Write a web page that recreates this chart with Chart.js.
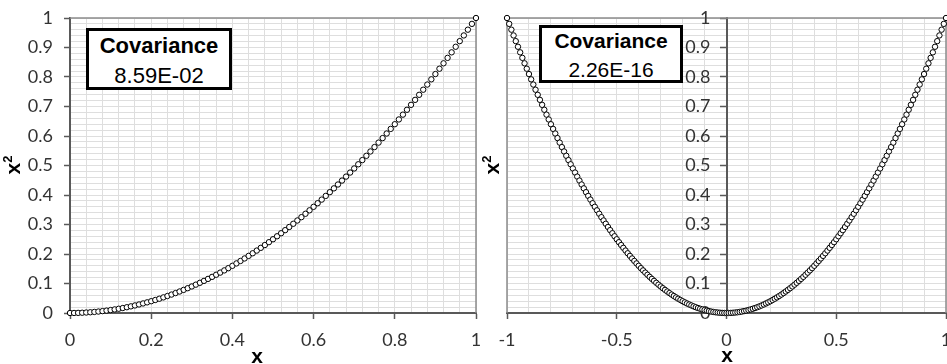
<!DOCTYPE html>
<html>
<head>
<meta charset="utf-8">
<script src="https://cdn.jsdelivr.net/npm/chart.js@4"></script>
<style>
  body { margin: 0; background: #fff; overflow: hidden; }
  #wrap { position: relative; width: 947px; height: 364px; overflow: hidden; }
  canvas { position: absolute; top: 0; }
  .box { position: absolute; border: 3px solid #000; background: #fff; box-sizing: border-box; }
  .line { position: absolute; left: 0; width: 100%; text-align: center; font-family: "Liberation Sans", Arial, sans-serif; color: #000; white-space: nowrap; }
  .ttl { position: absolute; font-family: "Liberation Sans", Arial, sans-serif; font-weight: bold; font-size: 21px; line-height: 21px; color: #000; white-space: nowrap; }
  .ttl sup { font-size: 13px; vertical-align: 8px; line-height: 0; }
</style>
</head>
<body>
<div id="wrap">
  <canvas id="chartLeft" width="490" height="364" style="left:0"></canvas>
  <canvas id="chartRight" width="472" height="364" style="left:480px"></canvas>

  <div class="box" style="left:86px; top:28px; width:146px; height:62px;">
    <div class="line" style="top:4px; font-size:22px; line-height:22px; font-weight:bold;">Covariance</div>
    <div class="line" style="top:34px; font-size:22px; line-height:22px;">8.59E-02</div>
  </div>
  <div class="box" style="left:539px; top:25px; width:144px; height:58px;">
    <div class="line" style="top:2px; font-size:21px; line-height:21px; font-weight:bold;">Covariance</div>
    <div class="line" style="top:31px; font-size:21px; line-height:21px;">2.26E-16</div>
  </div>

  <div class="ttl" style="left:257px; top:345px; transform:translateX(-50%);">x</div>
  <div class="ttl" style="left:727px; top:344px; transform:translateX(-50%);">x</div>
  <div class="ttl" style="left:12px; top:165px; transform:translate(-50%,-50%) rotate(-90deg);">x<sup>2</sup></div>
  <div class="ttl" style="left:491px; top:165px; transform:translate(-50%,-50%) rotate(-90deg);">x<sup>2</sup></div>
</div>

<script>
// left panel: x from 0 to 1
const leftX = [0,0.01,0.02,0.03,0.04,0.05,0.06,0.07,0.08,0.09,0.1,0.11,0.12,0.13,0.14,0.15,0.16,0.17,0.18,0.19,0.2,0.21,0.22,0.23,0.24,0.25,0.26,0.27,0.28,0.29,0.3,0.31,0.32,0.33,0.34,0.35,0.36,0.37,0.38,0.39,0.4,0.41,0.42,0.43,0.44,0.45,0.46,0.47,0.48,0.49,0.5,0.51,0.52,0.53,0.54,0.55,0.56,0.57,0.58,0.59,0.6,0.61,0.62,0.63,0.64,0.65,0.66,0.67,0.68,0.69,0.7,0.71,0.72,0.73,0.74,0.75,0.76,0.77,0.78,0.79,0.8,0.81,0.82,0.83,0.84,0.85,0.86,0.87,0.88,0.89,0.9,0.91,0.92,0.93,0.94,0.95,0.96,0.97,0.98,0.99,1];
const leftY = [0,0.0001,0.0004,0.0009,0.0016,0.0025,0.0036,0.0049,0.0064,0.0081,0.01,0.0121,0.0144,0.0169,0.0196,0.0225,0.0256,0.0289,0.0324,0.0361,0.04,0.0441,0.0484,0.0529,0.0576,0.0625,0.0676,0.0729,0.0784,0.0841,0.09,0.0961,0.1024,0.1089,0.1156,0.1225,0.1296,0.1369,0.1444,0.1521,0.16,0.1681,0.1764,0.1849,0.1936,0.2025,0.2116,0.2209,0.2304,0.2401,0.25,0.2601,0.2704,0.2809,0.2916,0.3025,0.3136,0.3249,0.3364,0.3481,0.36,0.3721,0.3844,0.3969,0.4096,0.4225,0.4356,0.4489,0.4624,0.4761,0.49,0.5041,0.5184,0.5329,0.5476,0.5625,0.5776,0.5929,0.6084,0.6241,0.64,0.6561,0.6724,0.6889,0.7056,0.7225,0.7396,0.7569,0.7744,0.7921,0.81,0.8281,0.8464,0.8649,0.8836,0.9025,0.9216,0.9409,0.9604,0.9801,1];

// right panel: x from -1 to 1
const rightX = [-1,-0.99,-0.98,-0.97,-0.96,-0.95,-0.94,-0.93,-0.92,-0.91,-0.9,-0.89,-0.88,-0.87,-0.86,-0.85,-0.84,-0.83,-0.82,-0.81,-0.8,-0.79,-0.78,-0.77,-0.76,-0.75,-0.74,-0.73,-0.72,-0.71,-0.7,-0.69,-0.68,-0.67,-0.66,-0.65,-0.64,-0.63,-0.62,-0.61,-0.6,-0.59,-0.58,-0.57,-0.56,-0.55,-0.54,-0.53,-0.52,-0.51,-0.5,-0.49,-0.48,-0.47,-0.46,-0.45,-0.44,-0.43,-0.42,-0.41,-0.4,-0.39,-0.38,-0.37,-0.36,-0.35,-0.34,-0.33,-0.32,-0.31,-0.3,-0.29,-0.28,-0.27,-0.26,-0.25,-0.24,-0.23,-0.22,-0.21,-0.2,-0.19,-0.18,-0.17,-0.16,-0.15,-0.14,-0.13,-0.12,-0.11,-0.1,-0.09,-0.08,-0.07,-0.06,-0.05,-0.04,-0.03,-0.02,-0.01,
  0,0.01,0.02,0.03,0.04,0.05,0.06,0.07,0.08,0.09,0.1,0.11,0.12,0.13,0.14,0.15,0.16,0.17,0.18,0.19,0.2,0.21,0.22,0.23,0.24,0.25,0.26,0.27,0.28,0.29,0.3,0.31,0.32,0.33,0.34,0.35,0.36,0.37,0.38,0.39,0.4,0.41,0.42,0.43,0.44,0.45,0.46,0.47,0.48,0.49,0.5,0.51,0.52,0.53,0.54,0.55,0.56,0.57,0.58,0.59,0.6,0.61,0.62,0.63,0.64,0.65,0.66,0.67,0.68,0.69,0.7,0.71,0.72,0.73,0.74,0.75,0.76,0.77,0.78,0.79,0.8,0.81,0.82,0.83,0.84,0.85,0.86,0.87,0.88,0.89,0.9,0.91,0.92,0.93,0.94,0.95,0.96,0.97,0.98,0.99,1];
const rightY = [1,0.9801,0.9604,0.9409,0.9216,0.9025,0.8836,0.8649,0.8464,0.8281,0.81,0.7921,0.7744,0.7569,0.7396,0.7225,0.7056,0.6889,0.6724,0.6561,0.64,0.6241,0.6084,0.5929,0.5776,0.5625,0.5476,0.5329,0.5184,0.5041,0.49,0.4761,0.4624,0.4489,0.4356,0.4225,0.4096,0.3969,0.3844,0.3721,0.36,0.3481,0.3364,0.3249,0.3136,0.3025,0.2916,0.2809,0.2704,0.2601,0.25,0.2401,0.2304,0.2209,0.2116,0.2025,0.1936,0.1849,0.1764,0.1681,0.16,0.1521,0.1444,0.1369,0.1296,0.1225,0.1156,0.1089,0.1024,0.0961,0.09,0.0841,0.0784,0.0729,0.0676,0.0625,0.0576,0.0529,0.0484,0.0441,0.04,0.0361,0.0324,0.0289,0.0256,0.0225,0.0196,0.0169,0.0144,0.0121,0.01,0.0081,0.0064,0.0049,0.0036,0.0025,0.0016,0.0009,0.0004,0.0001,
  0,0.0001,0.0004,0.0009,0.0016,0.0025,0.0036,0.0049,0.0064,0.0081,0.01,0.0121,0.0144,0.0169,0.0196,0.0225,0.0256,0.0289,0.0324,0.0361,0.04,0.0441,0.0484,0.0529,0.0576,0.0625,0.0676,0.0729,0.0784,0.0841,0.09,0.0961,0.1024,0.1089,0.1156,0.1225,0.1296,0.1369,0.1444,0.1521,0.16,0.1681,0.1764,0.1849,0.1936,0.2025,0.2116,0.2209,0.2304,0.2401,0.25,0.2601,0.2704,0.2809,0.2916,0.3025,0.3136,0.3249,0.3364,0.3481,0.36,0.3721,0.3844,0.3969,0.4096,0.4225,0.4356,0.4489,0.4624,0.4761,0.49,0.5041,0.5184,0.5329,0.5476,0.5625,0.5776,0.5929,0.6084,0.6241,0.64,0.6561,0.6724,0.6889,0.7056,0.7225,0.7396,0.7569,0.7744,0.7921,0.81,0.8281,0.8464,0.8649,0.8836,0.9025,0.9216,0.9409,0.9604,0.9801,1];

// major tick steps (labels) and minor steps (gridlines)
const leftXMajor = 0.2, leftXMinor = 0.04;
const rightXMajor = 0.5, rightXMinor = 0.1;
const yMajor = 0.1, yMinor = 0.02;

const tickFont = 'Lato, "Open Sans", sans-serif';
const tickSize = 18;
const tickCol = '#333';

Chart.defaults.font.family = tickFont;
Chart.defaults.font.size = tickSize;
Chart.defaults.color = tickCol;

const gridCol = '#dedede';
const axisCol = '#595959';
const tickLen = 6;

let isMajor = (v, step) => Math.abs(v / step - Math.round(v / step)) < 1e-6;
let fmt = (v) => String(Math.round(v * 10) / 10);

let makeAxis = (min, max, major, minor, pad, extra) => Object.assign({
  type: 'linear',
  min: min,
  max: max,
  ticks: {
    stepSize: minor,
    autoSkip: false,
    maxRotation: 0,
    padding: pad,
    callback: (v) => isMajor(v, major) ? fmt(v) : ''
  },
  grid: {
    color: gridCol,
    lineWidth: 1,
    tickLength: tickLen,
    tickColor: (ctx) => (ctx.tick && isMajor(ctx.tick.value, major)) ? axisCol : 'rgba(0,0,0,0)',
    tickWidth: 1.5
  },
  border: { color: axisCol, width: 2 }
}, extra);

// x axis: fixed height, no extra side padding
let fitX = (s) => { s.height = 51; s.paddingLeft = 0; s.paddingRight = 0; };

// gray frame around the plot area (sides not covered by the axes)
let frame = {
  id: 'frame',
  beforeDatasetsDraw(chart, args, opts) {
    const a = chart.chartArea;
    const c = chart.ctx;
    c.save();
    c.strokeStyle = '#8c8c8c';
    c.lineWidth = 1.5;
    c.beginPath();
    c.moveTo(a.left, a.top);
    c.lineTo(a.right, a.top);
    c.lineTo(a.right, a.bottom);
    if (opts.left) {
      c.moveTo(a.left, a.top);
      c.lineTo(a.left, a.bottom);
    }
    c.stroke();

    // labels for a y axis that crosses at x = 0, right aligned left of the axis
    if (opts.crossLabels) {
      const xs = chart.scales.x, ys = chart.scales.y;
      const ax = xs.getPixelForValue(0);
      c.font = tickSize + 'px ' + tickFont;
      c.fillStyle = tickCol;
      c.textAlign = 'right';
      c.textBaseline = 'middle';
      ys.ticks.forEach(t => {
        if (isMajor(t.value, yMajor)) c.fillText(fmt(t.value), ax - tickLen - opts.crossLabels, ys.getPixelForValue(t.value));
      });
    }
    c.restore();
  }
};

let pts = (xs, ys) => xs.map((x, i) => ({ x: x, y: ys[i] }));

let dataset = (xs, ys) => ({
  data: pts(xs, ys),
  showLine: false,
  pointRadius: 2.7,
  pointBorderWidth: 1,
  pointBackgroundColor: '#fff',
  pointBorderColor: '#000',
  clip: false
});

new Chart(document.getElementById('chartLeft'), {
  type: 'scatter',
  data: { datasets: [dataset(leftX, leftY)] },
  options: {
    responsive: false,
    animation: false,
    layout: { padding: { top: 18, right: 14, left: 0, bottom: 0 } },
    plugins: { legend: { display: false }, tooltip: { enabled: false }, frame: { left: false } },
    scales: {
      x: makeAxis(0, 1, leftXMajor, leftXMinor, 10, { afterFit: fitX }),
      y: makeAxis(0, 1, yMajor, yMinor, 11, {
        afterFit: (s) => { s.width = 70; s.paddingTop = 0; s.paddingBottom = 0; }
      })
    }
  },
  plugins: [frame]
});

new Chart(document.getElementById('chartRight'), {
  type: 'scatter',
  data: { datasets: [dataset(rightX, rightY)] },
  options: {
    responsive: false,
    animation: false,
    layout: { padding: { top: 18, right: 6, left: 27, bottom: 0 } },
    plugins: { legend: { display: false }, tooltip: { enabled: false }, frame: { left: true, crossLabels: 10 } },
    scales: {
      x: makeAxis(-1, 1, rightXMajor, rightXMinor, 10, { afterFit: fitX }),
      y: makeAxis(0, 1, yMajor, yMinor, 10, {
        position: { x: 0 },
        ticks: { stepSize: yMinor, autoSkip: false, display: false },
        afterFit: (s) => { s.paddingTop = 0; s.paddingBottom = 0; }
      })
    }
  },
  plugins: [frame]
});
</script>
</body>
</html>
